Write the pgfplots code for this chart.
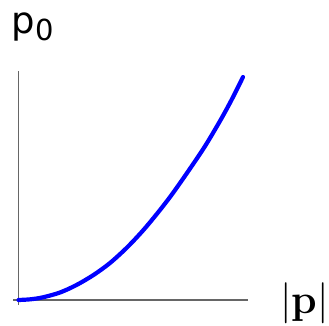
\documentclass[border=0pt]{standalone}
\usepackage{pgfplots}
\pgfplotsset{compat=1.18}
\usepackage{fontspec}
\newfontfamily\labelsans{DejaVu Sans}
\begin{document}
\begin{tikzpicture}
\path[use as bounding box] (-18.5pt,-25pt) rectangle (310.5pt,300pt);
\begin{axis}[
  x=1pt, y=1pt,
  at={(0pt,0pt)}, anchor=origin,
  axis lines=middle,
  axis line style={-, draw=black!60, line width=1.1pt},
  xmin=-5.5, xmax=229.5,
  ymin=-5, ymax=229,
  xtick=\empty, ytick=\empty,
  clip=false,
]
\addplot[blue, line width=4.2pt, smooth, line cap=round] coordinates {
  (0,0) (12,0.7) (24.5,2.7) (41.5,7.5) (58,15) (75,25) (91.5,37)
  (108.5,52.5) (124.5,69.5) (139.5,87.5) (153,105) (168.5,127)
  (186,153) (201.5,179) (213,200) (224.5,223)
};
\end{axis}
\node[anchor=base west, inner sep=0pt, font=\labelsans\fontsize{37}{40}\selectfont] at (-7pt,267pt) {p\raisebox{-7pt}{\fontsize{29}{30}\selectfont 0}};
\node[anchor=base west, inner sep=0pt, font=\fontsize{41}{45}\selectfont] at (261.5pt,-13pt) {|\textbf{p}|};
\end{tikzpicture}
\end{document}
